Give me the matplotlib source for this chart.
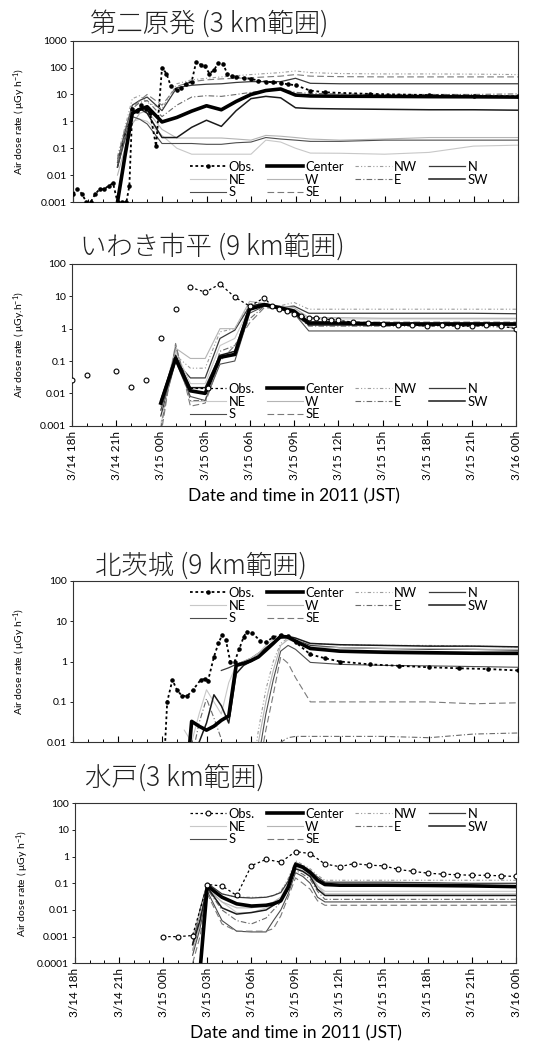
import numpy as np
import matplotlib

matplotlib.use("Agg")
import matplotlib.pyplot as plt  # noqa: E402
from matplotlib.ticker import FixedLocator, MultipleLocator, NullLocator  # noqa: E402

nan = np.nan

# time axis: hours after 2011-03-14 18:00 JST
tick_hours = [0, 3, 6, 9, 12, 15, 18, 21, 24, 27, 30]
tick_labels = ["3/14 18h", "3/14 21h", "3/15 00h", "3/15 03h", "3/15 06h",
               "3/15 09h", "3/15 12h", "3/15 15h", "3/15 18h", "3/15 21h",
               "3/16 00h"]
directions = ["NW", "N", "NE", "W", "E", "SW", "S", "SE"]

# ── 第二原発 ──────────────────────────────────────────────────────────
daini_obs_t = [0, 0.3, 0.6, 0.9, 1.2, 1.5, 1.8, 2.1, 2.4, 2.7,
               3.0, 3.3, 3.6, 3.8, 4.0, 4.3, 4.6, 4.9, 5.2, 5.6,
               6.0, 6.3, 6.6, 7.0, 7.3, 7.6, 8.0, 8.3, 8.6, 8.9,
               9.2, 9.5, 9.8, 10.1, 10.4, 10.7, 11.0, 11.5, 12, 12.5,
               13, 13.5, 14, 14.5, 15, 16, 17, 20, 24, 27, 30]
daini_obs = [0.002, 0.003, 0.002, 0.001, 0.001, 0.002, 0.003, 0.003, 0.004, 0.005,
             0.001, 0.001, 0.001, 0.004, 3, 2.5, 4, 3, 2, 0.12,
             100, 60, 20, 15, 18, 25, 30, 160, 130, 110,
             60, 80, 150, 140, 60, 50, 45, 40, 38, 33,
             30, 28, 26, 24, 22, 14, 12, 10.5, 9.5, 9, 8.5]
daini_t = [3, 3.5, 4, 4.5, 5, 6, 7, 8, 9, 10, 11, 12, 13, 14, 15, 16, 18, 21, 24, 27, 30]
daini_center = [0.001, 0.05, 2.0, 2.8, 3.5, 0.95, 1.4, 2.4, 3.8, 2.7, 5.5, 10, 14, 16, 9.5, 8.8, 8.6, 8.5, 8.3, 8.2, 8.0]
daini_nw = [0.05, 0.6, 7, 9, 5, 3, 25, 35, 40, 45, 50, 55, 60, 65, 75, 65, 60, 58, 58, 57, 55]
daini_n = [0.03, 0.4, 4, 6, 8, 2.5, 18, 22, 24, 25, 28, 30, 30, 30, 40, 26, 25, 25, 25, 25, 25]
daini_ne = [0.02, 0.2, 1.0, 1.2, 1.0, 0.3, 0.1, 0.06, 0.06, 0.06, 0.06, 0.06, 0.2, 0.17, 0.1, 0.066, 0.065, 0.06, 0.07, 0.12, 0.13]
daini_w = [0.01, 0.1, 0.8, 2, 2.5, 0.5, 0.24, 0.24, 0.24, 0.24, 0.22, 0.2, 0.3, 0.28, 0.25, 0.22, 0.2, 0.22, 0.25, 0.25, 0.25]
daini_e = [0.04, 0.5, 3, 5, 6, 1.5, 4, 8, 9, 8.5, 10, 12, 14, 16, 12, 11, 10.5, 10, 10, 10, 10.5]
daini_sw = [0.02, 0.3, 2, 3, 2, 0.25, 0.25, 0.6, 1.1, 0.65, 2.5, 7, 8.5, 7.5, 3.2, 3.0, 2.9, 2.8, 2.7, 2.7, 2.6]
daini_s = [0.02, 0.2, 1.5, 1.2, 0.8, 0.15, 0.15, 0.15, 0.14, 0.14, 0.16, 0.17, 0.25, 0.22, 0.2, 0.18, 0.18, 0.2, 0.2, 0.2, 0.2]
daini_se = [0.03, 0.3, 3, 6, 10, 4, 20, 30, 35, 38, 40, 42, 45, 48, 55, 48, 46, 45, 45, 45, 45]

# ── いわき市平 ────────────────────────────────────────────────────────
iwaki_obs_t = [0, 1, 3, 4, 5, 6, 7, 8, 9, 10, 11, 12, 13, 13.5, 14, 14.5, 15, 15.5,
               16, 16.5, 17, 17.5, 18, 19, 20, 21, 22, 23, 24, 25, 26, 27, 28, 29, 30]
iwaki_obs = [0.025, 0.036, 0.048, 0.016, 0.025, 0.53, 4.1, 19, 13.5, 24, 9.5, 5, 9, 5, 4, 3.5, 2.8, 2.4,
             2.2, 2.1, 2.0, 1.9, 1.8, 1.6, 1.5, 1.4, 1.3, 1.3, 1.2, 1.3, 1.2, 1.2, 1.3, 1.2, 1.0]
iwaki_t = [6, 7, 8, 9, 10, 11, 12, 13, 14, 15, 16, 18, 21, 24, 27, 30]
iwaki_center = [0.005, 0.12, 0.012, 0.01, 0.13, 0.16, 4, 5.5, 4.5, 3.5, 1.5, 1.5, 1.4, 1.4, 1.4, 1.4]
iwaki_nw = [0.003, 0.15, 0.06, 0.06, 0.8, 1, 6, 6, 5, 6.5, 4, 4, 4, 4, 4, 4]
iwaki_n = [0.002, 0.1, 0.03, 0.03, 0.5, 0.9, 5, 5, 4.5, 5, 3, 3, 3, 3, 3, 2.9]
iwaki_ne = [0.001, 0.2, 0.02, 0.02, 0.3, 0.5, 4.5, 6, 5, 4, 2, 2, 2, 2, 2, 2]
iwaki_w = [0.004, 0.25, 0.12, 0.12, 1, 1, 7, 6, 5, 4.5, 2.2, 2.2, 2.1, 2.1, 2.1, 2.1]
iwaki_e = [0.0008, 0.3, 0.006, 0.006, 0.2, 0.3, 2, 5, 4, 3, 1.2, 1.2, 1.2, 1.2, 1.2, 1.1]
iwaki_sw = [0.006, 0.15, 0.015, 0.015, 0.15, 0.2, 5, 6, 4.5, 3, 1.3, 1.3, 1.3, 1.3, 1.3, 1.3]
iwaki_s = [0.003, 0.1, 0.008, 0.006, 0.08, 0.1, 3, 5, 4, 3, 0.85, 0.85, 0.85, 0.85, 0.85, 0.85]
iwaki_se = [0.0005, 0.35, 0.004, 0.005, 0.1, 0.3, 1.5, 4.5, 4, 3.5, 1.6, 1.6, 1.6, 1.6, 1.6, 1.6]

# ── 北茨城 ────────────────────────────────────────────────────────────
kita_obs_t = [6.2, 6.35, 6.7, 7.0, 7.35, 7.7, 8.1, 8.6, 8.9, 9.1,
              9.5, 9.8, 10.05, 10.3, 10.6, 10.9, 11.2, 11.5, 11.7, 12.1,
              12.6, 13.0, 13.5, 14.0, 14.5, 15, 16, 17, 18, 20,
              22, 24, 26, 28, 30]
kita_obs = [0.008, 0.1, 0.35, 0.2, 0.14, 0.14, 0.2, 0.35, 0.37, 0.33,
            1.3, 2.8, 4.5, 3.5, 1.0, 1.0, 2.0, 4.0, 5.5, 5.0,
            3.3, 3.0, 4.0, 4.5, 4.2, 3.0, 1.5, 1.2, 1.0, 0.85,
            0.78, 0.72, 0.68, 0.65, 0.6]
kita_t = [7.5, 8, 8.5, 9, 9.5, 10, 10.5, 11, 11.5, 12, 12.5, 13, 13.5, 14, 14.5, 15, 16, 18, 21, 24, 27, 30]
kita_center = [0.0003, 0.033, 0.025, 0.02, 0.025, 0.035, 0.045, 0.8, 0.9, 1.05, 1.3, 1.9, 2.8, 4.2, 4.0, 3.2, 2.1, 1.8, 1.7, 1.65, 1.6, 1.6]
kita_nw = [nan] * 9 + [0.001, 0.02, 0.2, 1.0, 2.8, 3.8, 3.3, 2.8, 2.6, 2.5, 2.5, 2.4, 2.3]
kita_n = [nan, nan, nan, nan, nan, 0.6, 0.7, 0.85, 1.0, 1.2, 1.6, 2.2, 3.0, 3.8, 4.0, 3.4, 2.5, 2.2, 2.1, 2.0, 2.0, 1.9]
kita_ne = [0.02, 0.01, 0.05, 0.2, 0.1, 0.05, 0.3, 0.8, 1.0, 1.2, 1.6, 2.5, 3.5, 4.0, 4.2, 3.6, 2.2, 1.7, 1.55, 1.5, 1.5, 1.45]
kita_w = [nan] * 9 + [0.0005, 0.01, 0.1, 0.6, 2.5, 3.5, 3.0, 2.3, 2.2, 2.1, 2.1, 2.0, 2.0]
kita_e = [0.001, 0.004, 0.03, 0.12, 0.04, 0.012, 0.005, 0.003, 0.003, 0.003, 0.003, 0.004, 0.006, 0.01, 0.013, 0.014, 0.014, 0.014, 0.014, 0.013, 0.016, 0.017]
kita_sw = [nan, nan, 0.01, 0.03, 0.15, 0.08, 0.03, 0.5, 0.8, 1.0, 1.3, 2.0, 3.0, 3.8, 4.2, 3.8, 2.8, 2.6, 2.5, 2.4, 2.4, 2.3]
kita_s = [nan] * 9 + [0.0003, 0.004, 0.05, 0.35, 1.8, 2.5, 2.0, 0.95, 0.85, 0.8, 0.78, 0.75, 0.72]
kita_se = [nan] * 9 + [0.0002, 0.002, 0.02, 0.15, 1.3, 0.9, 0.4, 0.1, 0.1, 0.1, 0.1, 0.09, 0.095]

# ── 水戸 ──────────────────────────────────────────────────────────────
mito_obs_t = [6, 7, 8, 9, 10, 11, 12, 13, 14, 15, 16, 17, 18, 19, 20, 21, 22, 23, 24, 25, 26, 27, 28, 29, 30]
mito_obs = [0.001, 0.001, 0.0011, 0.09, 0.08, 0.035, 0.46, 0.79, 0.62, 1.55, 1.3, 0.53, 0.42,
            0.55, 0.48, 0.45, 0.33, 0.28, 0.24, 0.22, 0.21, 0.2, 0.2, 0.19, 0.18]
mito_t = [8, 8.5, 9, 10, 11, 12, 13, 13.5, 14, 14.5, 15, 15.5, 16, 16.5, 17, 18, 21, 24, 27, 30]
mito_center = [nan, 0.00005, 0.08, 0.03, 0.017, 0.014, 0.015, 0.017, 0.022, 0.07, 0.5, 0.4, 0.25, 0.13, 0.09, 0.085, 0.085, 0.083, 0.08, 0.075]
mito_nw = [0.0003, 0.005, 0.09, 0.04, 0.03, 0.03, 0.03, 0.035, 0.05, 0.15, 0.7, 0.5, 0.35, 0.2, 0.13, 0.13, 0.13, 0.13, 0.13, 0.13]
mito_n = [0.0005, 0.01, 0.1, 0.04, 0.03, 0.028, 0.03, 0.035, 0.045, 0.12, 0.6, 0.45, 0.3, 0.17, 0.11, 0.11, 0.11, 0.105, 0.1, 0.1]
mito_ne = [0.001, 0.008, 0.07, 0.02, 0.008, 0.008, 0.012, 0.015, 0.02, 0.06, 0.4, 0.3, 0.2, 0.08, 0.05, 0.05, 0.05, 0.05, 0.05, 0.05]
mito_w = [0.0003, 0.003, 0.06, 0.02, 0.012, 0.012, 0.015, 0.02, 0.03, 0.1, 0.45, 0.35, 0.22, 0.08, 0.04, 0.04, 0.04, 0.04, 0.04, 0.04]
mito_e = [0.0008, 0.005, 0.06, 0.01, 0.004, 0.003, 0.005, 0.01, 0.02, 0.06, 0.3, 0.22, 0.14, 0.05, 0.025, 0.025, 0.025, 0.025, 0.025, 0.025]
mito_sw = [0.0005, 0.004, 0.07, 0.012, 0.007, 0.008, 0.01, 0.015, 0.025, 0.08, 0.35, 0.28, 0.18, 0.06, 0.035, 0.035, 0.035, 0.035, 0.035, 0.035]
mito_s = [0.0002, 0.002, 0.05, 0.004, 0.0016, 0.0015, 0.0015, 0.004, 0.01, 0.04, 0.25, 0.18, 0.1, 0.03, 0.02, 0.02, 0.02, 0.02, 0.02, 0.02]
mito_se = [0.0001, 0.001, 0.04, 0.003, 0.0016, 0.0016, 0.0016, 0.002, 0.006, 0.03, 0.16, 0.1, 0.06, 0.022, 0.015, 0.015, 0.015, 0.015, 0.015, 0.015]

# line styles, all greyscale
STYLE = {
    "Center": dict(color="black", lw=2.6, ls="-"),
    "NW": dict(color="#9c9c9c", lw=0.8, ls=(0, (3, 2, 1, 2, 1, 2))),
    "N": dict(color="#3a3a3a", lw=0.9, ls="-"),
    "NE": dict(color="#c8c8c8", lw=0.8, ls="-"),
    "W": dict(color="#b4b4b4", lw=0.8, ls="-"),
    "E": dict(color="#6a6a6a", lw=0.8, ls=(0, (5, 2, 1, 2))),
    "SW": dict(color="#1a1a1a", lw=1.1, ls="-"),
    "S": dict(color="#4d4d4d", lw=0.8, ls="-"),
    "SE": dict(color="#7a7a7a", lw=0.8, ls=(0, (6, 3))),
}
OBS_DOT = dict(color="black", ls=(0, (1.5, 1.5)), lw=1.3, marker=".", ms=4.5)
OBS_RING = dict(color="black", ls=(0, (2, 2)), lw=0.9, marker="o", ms=3.5,
                mfc="white", mec="black", mew=0.8)
LEGEND_ORDER = ["Obs.", "NE", "S", "Center", "W", "SE", "NW", "E", "N", "SW"]

panels = [
    dict(title="第二原発 (3 km範囲)", title_xy=(90, 24), rect=(73, 40.7, 518, 202),
         ylim=(0.001, 1000), ylabel="Air dose rate ( μGy h$^{-1}$)",
         obs_t=daini_obs_t, obs=daini_obs, obs_style=OBS_DOT, obs_line_from=0,
         t=daini_t, series=[daini_center, daini_nw, daini_n, daini_ne, daini_w,
                            daini_e, daini_sw, daini_s, daini_se],
         legend_top=161, xlabels=False),
    dict(title="いわき市平 (9 km範囲)", title_xy=(80, 247), rect=(72, 264, 516, 425.7),
         ylim=(0.001, 100), ylabel="Air dose rate ( μGy.h$^{-1}$)",
         obs_t=iwaki_obs_t, obs=iwaki_obs, obs_style=OBS_RING, obs_line_from=7,
         t=iwaki_t, series=[iwaki_center, iwaki_nw, iwaki_n, iwaki_ne, iwaki_w,
                            iwaki_e, iwaki_sw, iwaki_s, iwaki_se],
         legend_top=383, xlabels=True),
    dict(title="北茨城 (9 km範囲)", title_xy=(95, 566), rect=(73, 580.7, 518, 742.3),
         ylim=(0.01, 100), ylabel="Air dose rate ( μGy h$^{-1}$)",
         obs_t=kita_obs_t, obs=kita_obs, obs_style=OBS_DOT, obs_line_from=0,
         t=kita_t, series=[kita_center, kita_nw, kita_n, kita_ne, kita_w,
                           kita_e, kita_sw, kita_s, kita_se],
         legend_top=587, xlabels=False),
    dict(title="水戸(3 km範囲)", title_xy=(85, 778), rect=(75, 803.3, 516, 963.3),
         ylim=(0.0001, 100), ylabel="Air dose rate ( μGy h$^{-1}$)",
         obs_t=mito_obs_t, obs=mito_obs, obs_style=OBS_RING, obs_line_from=0,
         t=mito_t, series=[mito_center, mito_nw, mito_n, mito_ne, mito_w,
                           mito_e, mito_sw, mito_s, mito_se],
         legend_top=808, xlabels=True),
]

plt.rcParams["font.family"] = ["Lato", "Noto Sans CJK JP", "DejaVu Sans"]
plt.rcParams["mathtext.default"] = "regular"

W, H = 538, 1054
fig = plt.figure(figsize=(W / 100, H / 100), dpi=100, facecolor="white")

for panel in panels:
    x0, y0, x1, y1 = panel["rect"]
    ax = fig.add_axes([x0 / W, 1 - y1 / H, (x1 - x0) / W, (y1 - y0) / H])
    ax.set_yscale("log")
    ax.set_xlim(0, 30)
    ax.set_ylim(*panel["ylim"])

    handles = {}
    for name, values in zip(["Center"] + directions, panel["series"]):
        z = 4 if name == "Center" else 2
        (line,) = ax.plot(panel["t"], values, label=name, zorder=z, **STYLE[name])
        handles[name] = line

    # observations: markers everywhere, dotted connector from obs_line_from on
    start = panel["obs_line_from"]
    if start > 0:
        ax.plot(panel["obs_t"][:start], panel["obs"][:start], zorder=5,
                **{**panel["obs_style"], "ls": "none"})
    (obs_line,) = ax.plot(panel["obs_t"][start:], panel["obs"][start:],
                          zorder=5, **panel["obs_style"])
    handles["Obs."] = obs_line

    lo, hi = panel["ylim"]
    decades = [10.0 ** k for k in range(int(round(np.log10(lo))), int(round(np.log10(hi))) + 1)]
    ax.yaxis.set_major_locator(FixedLocator(decades))
    ax.yaxis.set_minor_locator(NullLocator())
    ax.set_yticklabels([f"{v:g}" for v in decades], fontsize=7.5)
    ax.tick_params(axis="y", direction="out", length=2.5, width=0.6, pad=2)

    ax.xaxis.set_major_locator(FixedLocator(tick_hours))
    ax.xaxis.set_minor_locator(MultipleLocator(1))
    ax.tick_params(axis="x", which="major", direction="in", length=4, width=0.8)
    ax.tick_params(axis="x", which="minor", direction="in", length=2.5, width=0.7)
    if panel["xlabels"]:
        ax.set_xticklabels(tick_labels, rotation=90, fontsize=8.5)
        ax.set_xlabel("Date and time in 2011 (JST)", fontsize=12.5, labelpad=6)
    else:
        ax.set_xticklabels([])

    ax.set_ylabel(panel["ylabel"], fontsize=7.5)
    ax.yaxis.set_label_coords(-0.1, 0.5)
    for spine in ax.spines.values():
        spine.set_linewidth(0.8)
        spine.set_color("#333333")

    ax.legend([handles[k] for k in LEGEND_ORDER], LEGEND_ORDER, ncol=4,
              loc="upper left", bbox_to_anchor=(190 / W, 1 - panel["legend_top"] / H),
              bbox_transform=fig.transFigure, frameon=False, fontsize=9.3,
              handlelength=2.8, handletextpad=0.2, columnspacing=0.9,
              labelspacing=0.05, borderpad=0, borderaxespad=0, numpoints=1)

    tx, ty = panel["title_xy"]
    fig.text(tx / W, 1 - ty / H, panel["title"], ha="left", va="center",
             fontsize=19, color="#222222", fontweight="light",
             family=["Noto Sans CJK JP", "DejaVu Sans"])

fig.savefig("out.png", dpi=100, facecolor="white")
